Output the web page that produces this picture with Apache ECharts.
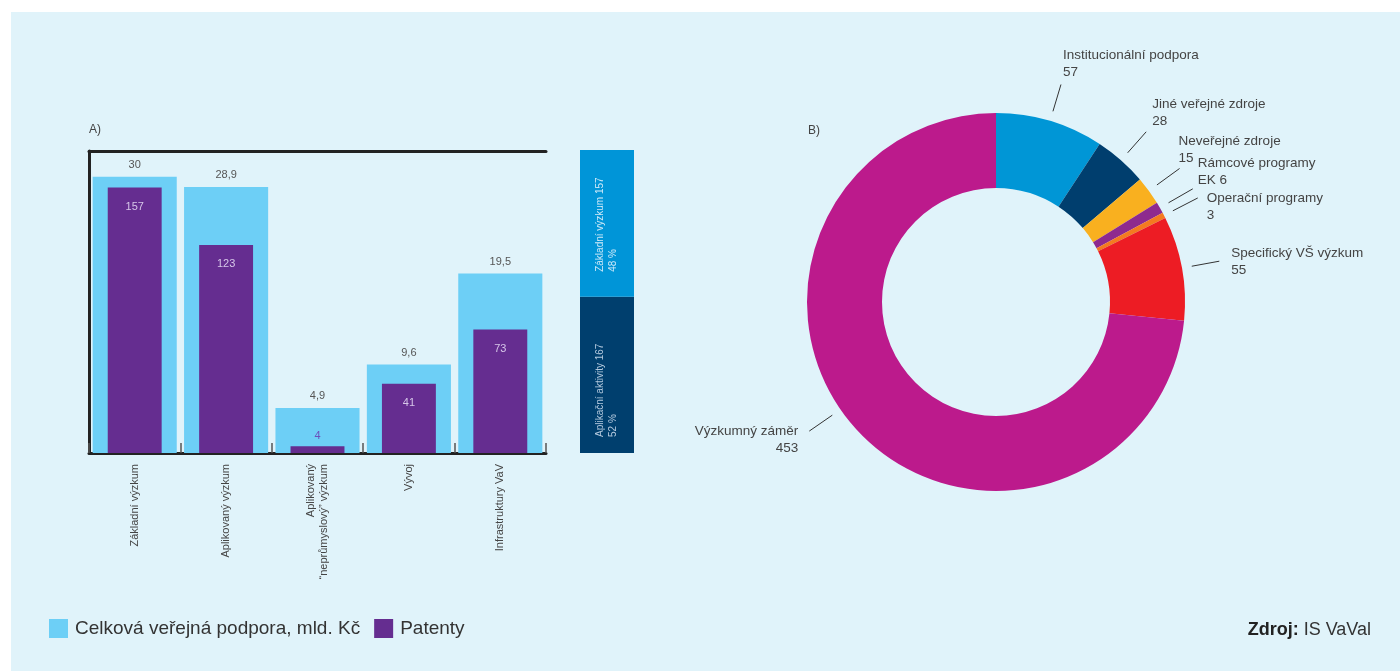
<!DOCTYPE html>
<html>
<head>
<meta charset="utf-8">
<title>Podpora VaV a patenty</title>
<script src="https://cdn.jsdelivr.net/npm/echarts@6/dist/echarts.min.js"></script>
<style>
    body {
        margin: 0;
        background-color: #ffffff;
    }

    .panel {
        position: absolute;
        left: 11px;
        top: 12px;
        right: 0;
        bottom: 0;
        background-color: #e0f3fa;
    }

    #main {
        position: absolute;
        left: 0;
        top: 0;
        width: 1400px;
        height: 671px;
    }
</style>
</head>
<body>
<div class="panel"></div>
<div id="main"></div>
<script>
// A) sloupcovy graf - kategorie a hodnoty
const categories = ['Základní výzkum', 'Aplikovaný výzkum', 'Aplikovaný\n“neprůmyslový” výzkum', 'Vývoj', 'Infrastruktury VaV']
const podporaValues = [30, 28.9, 4.9, 9.6, 19.5]   // mld. Kc
const patentyValues = [157, 123, 4, 41, 73]

// pruh vpravo od grafu A)
const splitNames = ['Aplikační aktivity', 'Základní výzkum']
const splitValues = [167, 157]

// B) zdroje financovani
const sourceNames = ['Institucionální podpora', 'Jiné veřejné zdroje', 'Neveřejné zdroje', 'Rámcové programy\nEK', 'Operační programy', 'Specifický VŠ výzkum', 'Výzkumný záměr']
const sourceValues = [57, 28, 15, 6, 3, 55, 453]

const legendNames = ['Celková veřejná podpora, mld. Kč', 'Patenty']

// barvy
const lightBlue = '#6dcff6'
const purple = '#652d90'
const pieColors = ['#0096d6', '#003e6e', '#f9b01f', '#8e2a8e', '#f47a20', '#ed1c24', '#bc1a8c']
const fontFamily = '"Liberation Sans", Arial, sans-serif'

// posun popisku kolacoveho grafu vuci konci vodici cary [dx, dy, pootoceni cary ve stupnich]
const pieLabelShift = [[2, -21, 0], [6, -19, 0], [-1, -19, 0], [5, -17, 0], [9, 9, 0], [12, 1, 0], [-11, 9, 7.5]]

const splitTotal = splitValues.reduce((a, b) => a + b, 0)

const chart = echarts.init(document.getElementById('main'), null, { renderer: 'canvas' })

const option = {
    animation: false,
    textStyle: { fontFamily: fontFamily },
    title: [
        { text: 'A)', left: 89, top: 124, padding: 0, textStyle: { fontSize: 12, fontWeight: 'normal', color: '#444', fontFamily: fontFamily } },
        { text: 'B)', left: 808, top: 125, padding: 0, textStyle: { fontSize: 12, fontWeight: 'normal', color: '#444', fontFamily: fontFamily } },
        {
            text: '{b|Zdroj:} IS VaVal',
            right: 29,
            top: 621,
            padding: 0,
            textStyle: {
                fontSize: 18,
                fontWeight: 'normal',
                color: '#333',
                fontFamily: fontFamily,
                rich: { b: { fontSize: 18, fontWeight: 'bold', color: '#222', fontFamily: fontFamily } }
            }
        }
    ],
    legend: {
        data: legendNames,
        left: 49,
        top: 619,
        padding: 0,
        itemWidth: 19,
        itemHeight: 19,
        itemGap: 14,
        icon: 'rect',
        textStyle: { fontSize: 19, color: '#333', fontFamily: fontFamily, padding: [0, 0, 0, 2] }
    },
    grid: [
        { left: 89, right: 854, top: 151, bottom: 218, outerBoundsMode: 'none' },
        { left: 580, width: 54, top: 150, bottom: 218, outerBoundsMode: 'none' }
    ],
    xAxis: [
        {
            type: 'category',
            gridIndex: 0,
            position: 'bottom',
            data: categories,
            axisLine: { show: true, onZero: false, lineStyle: { color: '#222', width: 3 } },
            axisTick: { show: true, inside: true, length: 10, lineStyle: { color: '#555', width: 1.5 } },
            axisLabel: { rotate: 90, margin: 11, fontSize: 11, lineHeight: 13, color: '#444', fontFamily: fontFamily, interval: 0 }
        },
        {
            // horni cara ramu, pouziva ji serie Patenty
            type: 'category',
            gridIndex: 0,
            position: 'top',
            data: categories,
            axisLine: { show: true, onZero: false, lineStyle: { color: '#222', width: 3 } },
            axisTick: { show: false },
            axisLabel: { show: false }
        },
        {
            type: 'category',
            gridIndex: 1,
            data: ['podíl'],
            show: false
        }
    ],
    yAxis: [
        {
            type: 'value',
            gridIndex: 0,
            min: 0,
            max: 32.8,
            axisLine: { show: true, onZero: false, lineStyle: { color: '#222', width: 3 } },
            axisTick: { show: false },
            axisLabel: { show: false },
            splitLine: { show: false }
        },
        {
            type: 'value',
            gridIndex: 0,
            min: 0,
            max: 178.5,
            show: false,
            splitLine: { show: false }
        },
        {
            type: 'value',
            gridIndex: 1,
            min: 0,
            max: splitTotal,
            show: false,
            splitLine: { show: false }
        }
    ],
    series: [
        {
            name: legendNames[0],
            type: 'bar',
            xAxisIndex: 0,
            yAxisIndex: 0,
            barWidth: '92%',
            itemStyle: { color: lightBlue },
            label: {
                show: true,
                position: 'top',
                distance: 6,
                fontSize: 11,
                color: '#555',
                formatter: (p) => String(p.value).replace('.', ',')
            },
            data: podporaValues
        },
        {
            name: legendNames[1],
            type: 'bar',
            xAxisIndex: 1,
            yAxisIndex: 1,
            barWidth: '59%',
            itemStyle: { color: purple },
            label: {
                show: true,
                position: 'insideTop',
                distance: 14,
                fontSize: 11,
                color: '#d6c6e8'
            },
            // maly sloupec ma popisek nad sebou
            data: patentyValues.map((v) => v < 10
                ? { value: v, label: { position: 'top', distance: 5, color: '#6b4fbb' } }
                : v)
        },
        // podil zakladniho vyzkumu a aplikacnich aktivit
        ...splitNames.map((name, i) => ({
            name: name,
            type: 'bar',
            stack: 'podil',
            xAxisIndex: 2,
            yAxisIndex: 2,
            barWidth: '100%',
            itemStyle: { color: i === 0 ? '#003f6e' : '#0095d8' },
            label: {
                show: true,
                position: 'insideBottom',
                rotate: 90,
                align: 'left',
                verticalAlign: 'middle',
                distance: i === 0 ? 16 : 25,
                fontSize: 10,
                lineHeight: 13,
                color: i === 0 ? '#b3c9de' : '#cde9f8',
                formatter: name + ' ' + splitValues[i] + '\n' + Math.round(splitValues[i] / splitTotal * 100) + ' %'
            },
            data: [splitValues[i]]
        })),
        {
            name: 'Zdroje',
            type: 'pie',
            center: [996, 302],
            radius: [114, 189],
            startAngle: 90,
            clockwise: true,
            avoidLabelOverlap: false,
            color: pieColors,
            emphasis: { scale: false },
            label: {
                show: true,
                position: 'outside',
                fontSize: 13.5,
                lineHeight: 17,
                color: '#444',
                fontFamily: fontFamily,
                formatter: (p) => p.name.indexOf('\n') >= 0 ? p.name + ' ' + p.value : p.name + '\n' + p.value
            },
            labelLine: {
                show: true,
                length: 38,
                length2: 0,
                smooth: false,
                lineStyle: { color: '#333', width: 1 }
            },
            // kratka radialni cara s mezerou od vysece, popisek vedle ni
            labelLayout: function (params) {
                const pts = params.labelLinePoints
                if (!pts) return {}
                const p0 = pts[0]
                const p1 = pts[1]
                const dx = p1[0] - p0[0]
                const dy = p1[1] - p0[1]
                const len = Math.sqrt(dx * dx + dy * dy) || 1
                let ux = dx / len
                let uy = dy / len
                const shift = pieLabelShift[params.dataIndex]
                // stred vysece odvozeny z pocatku cary (vnejsi polomer 189)
                const cx = p0[0] - ux * 189
                const cy = p0[1] - uy * 189
                const a = shift[2] * Math.PI / 180
                const rx = ux * Math.cos(a) - uy * Math.sin(a)
                const ry = ux * Math.sin(a) + uy * Math.cos(a)
                ux = rx
                uy = ry
                const start = [cx + ux * 199, cy + uy * 199]
                const end = [cx + ux * 227, cy + uy * 227]
                return {
                    x: end[0] + shift[0],
                    y: end[1] + shift[1],
                    align: ux < 0 ? 'right' : 'left',
                    verticalAlign: 'middle',
                    labelLinePoints: [start, end]
                }
            },
            data: sourceNames.map((name, i) => ({ name: name, value: sourceValues[i] }))
        }
    ]
}

chart.setOption(option)
</script>
</body>
</html>
